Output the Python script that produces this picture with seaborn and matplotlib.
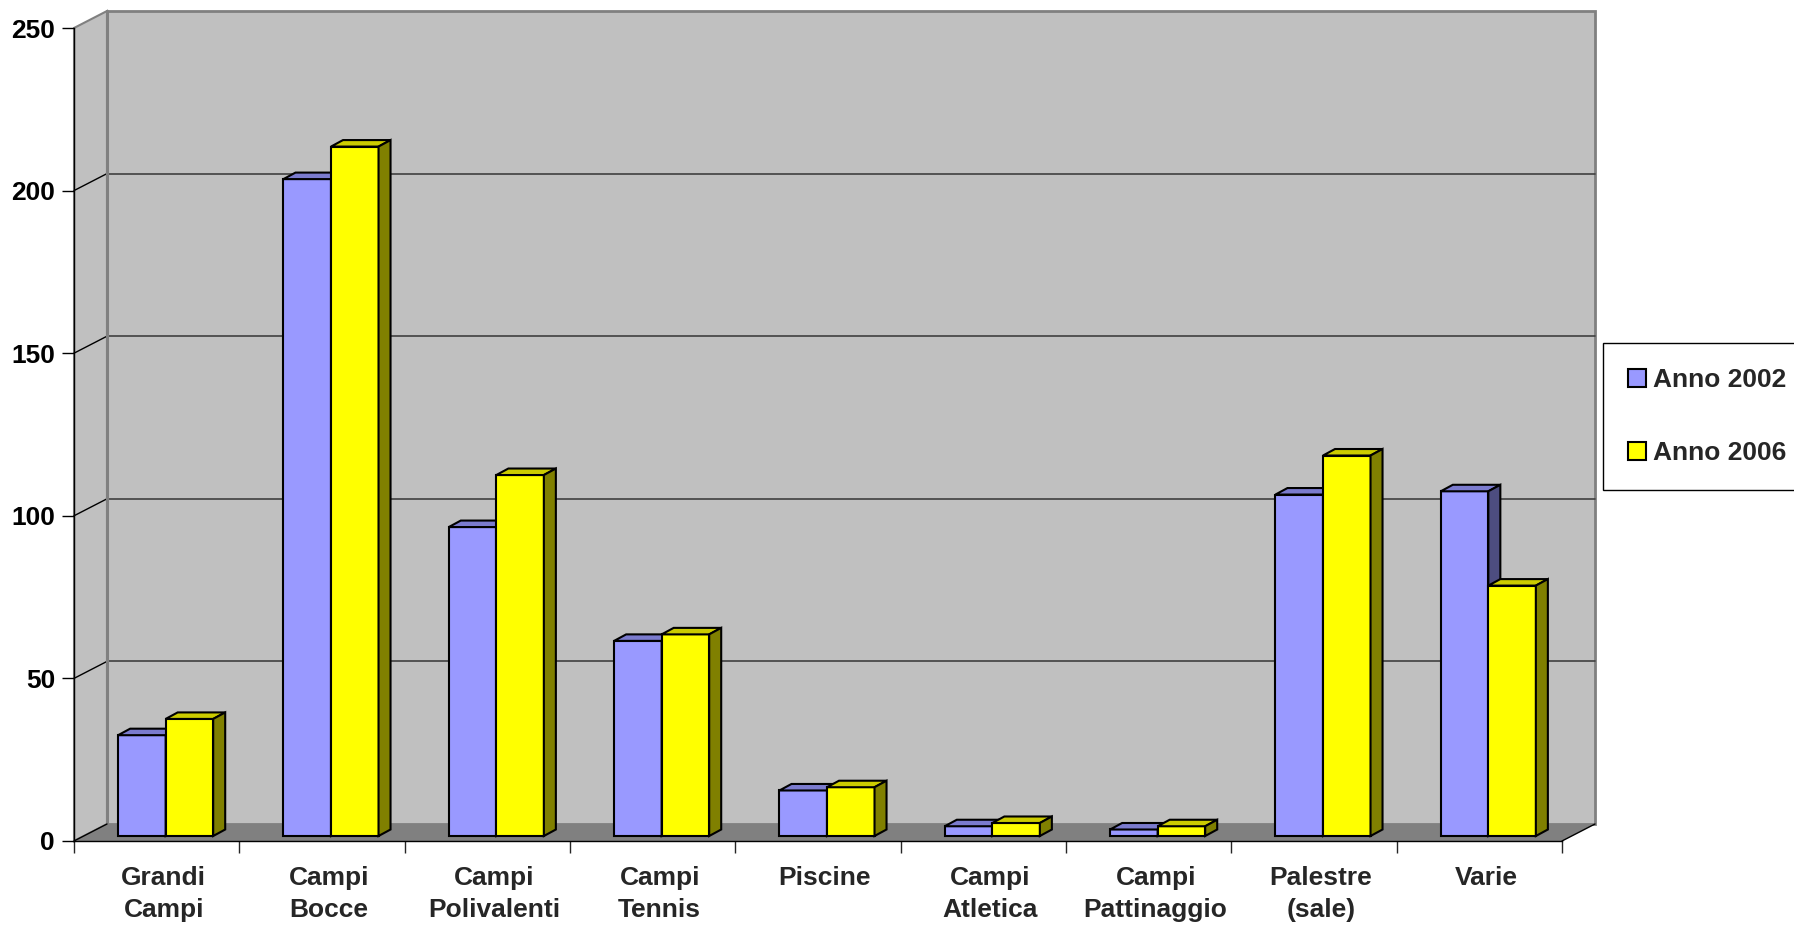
import numpy as np
import pandas as pd
import matplotlib
matplotlib.use("Agg")
import matplotlib.pyplot as plt
from matplotlib.patches import Polygon, Patch
from matplotlib.transforms import offset_copy, ScaledTranslation
import seaborn as sns

# Impianti sportivi per tipologia
categorie = ["Grandi\nCampi", "Campi\nBocce", "Campi\nPolivalenti", "Campi\nTennis",
             "Piscine", "Campi\nAtletica", "Campi\nPattinaggio", "Palestre\n(sale)", "Varie"]
anni = ["Anno 2002", "Anno 2006"]
valori_2002 = [31, 202, 95, 60, 14, 3, 2, 105, 106]
valori_2006 = [36, 212, 111, 62, 15, 4, 3, 117, 77]
tacche_y = [0, 50, 100, 150, 200, 250]

colori_fronte = ["#9999FF", "#FFFF00"]
colori_tetto = ["#7B7BCE", "#CCCC00"]
colori_lato = ["#4D4D80", "#808000"]

sns.set_style("white")
plt.rcParams["font.family"] = ["Liberation Sans", "DejaVu Sans"]
plt.rcParams["font.weight"] = "bold"
FS = 19

W, H = 1794, 926
fig = plt.figure(figsize=(W / 100, H / 100), dpi=100)
fx0, fx1, fy0, fy1 = 74, 1562, 841, 28
ax = fig.add_axes([fx0 / W, 1 - fy0 / H, (fx1 - fx0) / W, (fy0 - fy1) / H])
ax.set_facecolor("none")

df = pd.DataFrame({
    "categoria": categorie * 2,
    "valore": valori_2002 + valori_2006,
    "anno": [anni[0]] * len(categorie) + [anni[1]] * len(categorie),
})
sns.barplot(data=df, x="categoria", y="valore", hue="anno", palette=colori_fronte,
            width=0.575, saturation=1, edgecolor="black", linewidth=1.5,
            errorbar=None, legend=False, ax=ax)

ymax = tacche_y[-1]
left, right = -0.5, len(categorie) - 0.5
ax.set_xlim(left, right)
ax.set_ylim(0, ymax)
ax.set_xlabel("")
ax.set_ylabel("")

px_x = (fx1 - fx0) / len(categorie)
px_y = (fy0 - fy1) / ymax


def depth(dx, dy):
    return dx / px_x, dy / px_y


wx, wy = depth(33, 17)      # wall depth
bx, by = depth(12, 6.5)     # bar depth

# back wall, side wall and floor
ax.add_patch(Polygon([(left + wx, wy), (right + wx, wy), (right + wx, ymax + wy), (left + wx, ymax + wy)],
                     closed=True, fc="#C0C0C0", ec="#808080", lw=2, zorder=0.2, clip_on=False))
ax.add_patch(Polygon([(left, 0), (left + wx, wy), (left + wx, ymax + wy), (left, ymax)],
                     closed=True, fc="#C0C0C0", ec="#808080", lw=1.5, zorder=0.2, clip_on=False))
ax.add_patch(Polygon([(left, 0), (right, 0), (right + wx, wy), (left + wx, wy)],
                     closed=True, fc="#808080", ec="none", zorder=0.3, clip_on=False))
for v in tacche_y[1:-1]:
    ax.plot([left + wx, right + wx], [v + wy, v + wy], color="#404040", lw=1.2, zorder=0.4, clip_on=False)
    ax.plot([left, left + wx], [v, v + wy], color="black", lw=1, zorder=0.4, clip_on=False)
ax.plot([left + wx, left + wx], [wy, ymax + wy], color="#808080", lw=2.2, zorder=0.45, clip_on=False)
ax.plot([right, right + wx], [0, wy], color="black", lw=1, zorder=0.5, clip_on=False)
ax.plot([left, left + wx], [0, wy], color="black", lw=1, zorder=0.5, clip_on=False)

# bars with top and side faces
tr = offset_copy(ax.transData, fig=fig, x=9, y=5, units="dots")
for i, cont in enumerate(ax.containers):
    z = 3 + i
    for p in cont.patches:
        p.set_transform(tr)
        p.set_zorder(z)
        p.set_clip_on(False)
        p.set_joinstyle("miter")
        xa, w, h = p.get_x(), p.get_width(), p.get_height()
        top = [(xa, h), (xa + w, h), (xa + w + bx, h + by), (xa + bx, h + by)]
        side = [(xa + w, 0), (xa + w + bx, by), (xa + w + bx, h + by), (xa + w, h)]
        for pts, col in ((top, colori_tetto[i]), (side, colori_lato[i])):
            ax.add_patch(Polygon(pts, closed=True, fc=col, ec="black", lw=1.5, joinstyle="miter",
                                 transform=tr, zorder=z, clip_on=False))

# axes and ticks
for s in ("top", "right"):
    ax.spines[s].set_visible(False)
for s in ("left", "bottom"):
    ax.spines[s].set_color("black")
    ax.spines[s].set_linewidth(1)
    ax.spines[s].set_zorder(0.6)

ax.set_yticks(tacche_y)
ax.tick_params(axis="y", direction="out", length=12 * 0.72, width=1, pad=5,
               labelsize=FS, colors="black", left=True)
ax.set_xticks(range(len(categorie)), labels=categorie)
ax.set_xticks(np.arange(left, right + 1), minor=True)
ax.tick_params(axis="x", which="major", length=0, pad=18, labelsize=FS, bottom=True)
ax.tick_params(axis="x", which="minor", direction="out", length=12 * 0.72, width=1, bottom=True)
for lab in ax.get_xticklabels():
    lab.set_linespacing(1.42)
    lab.set_verticalalignment("top")
    lab.set_transform(lab.get_transform() + ScaledTranslation(7 / 100, 0, fig.dpi_scale_trans))

handles = [Patch(fc=colori_fronte[i], ec="black", lw=1.5, label=anni[i]) for i in range(len(anni))]
leg = fig.legend(handles=handles, loc="upper left", bbox_to_anchor=(1603 / W, 1 - 343 / H),
                 frameon=True, fancybox=False, edgecolor="black", framealpha=1, fontsize=FS,
                 handlelength=0.68, handleheight=0.68, handletextpad=0.27, labelspacing=1.85,
                 borderpad=0.95, borderaxespad=0)
leg.get_frame().set_linewidth(1)

fig.savefig("out.png", dpi=100)
